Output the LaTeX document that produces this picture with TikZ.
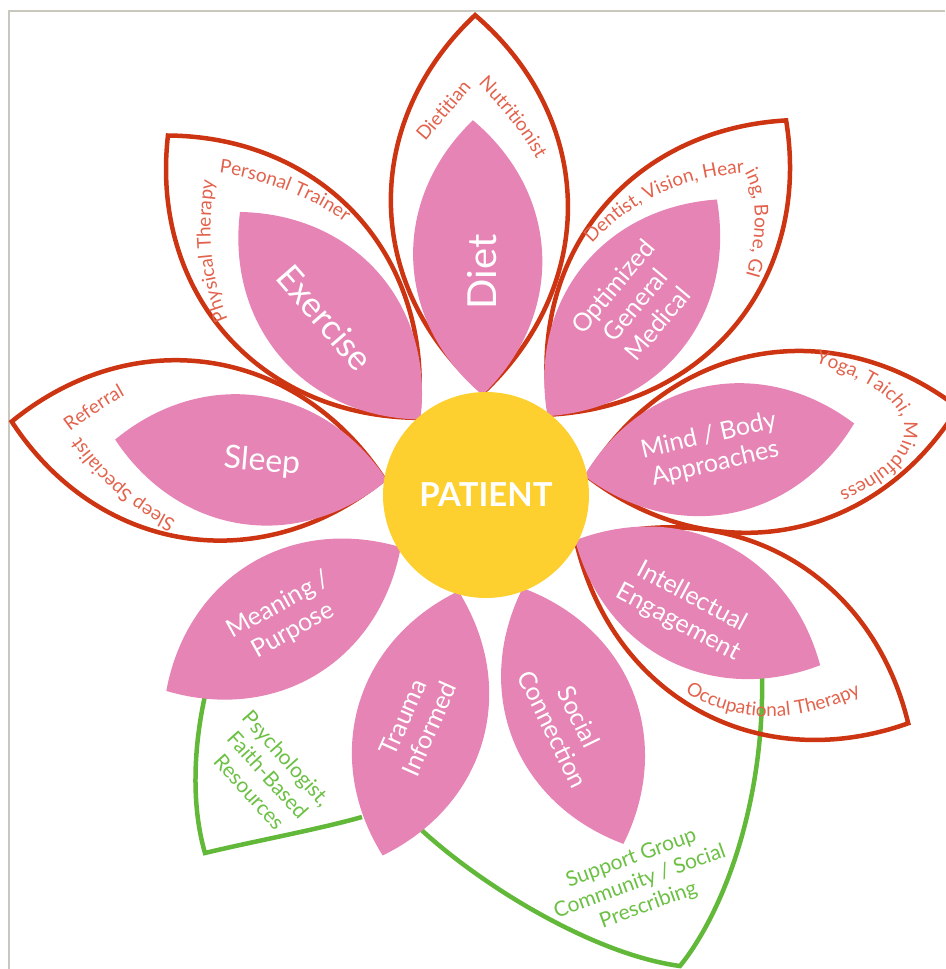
\documentclass[tikz,border=0pt]{standalone}
\usepackage{fontspec}
\setmainfont{Lato}
\usetikzlibrary{decorations.text}
\definecolor{petalpink}{RGB}{229,132,181}
\definecolor{sunyellow}{RGB}{253,208,48}
\definecolor{outlinered}{RGB}{204,52,18}
\definecolor{labelred}{RGB}{226,98,76}
\definecolor{leafgreen}{RGB}{98,184,56}
\definecolor{labelgreen}{RGB}{108,192,68}
\definecolor{framegray}{RGB}{200,200,190}
\newcommand\rimfont{\fontsize{19}{19}\selectfont}
\tikzset{
  petal/.style={fill=petalpink},
  rim/.style={draw=outlinered, line width=4.5pt, line join=miter},
  stem/.style={draw=leafgreen, line width=4.5pt},
  inlabel/.style={text=white, align=center, inner sep=0pt, font=\fontsize{25}{29}\selectfont},
  greenlabel/.style={text=labelgreen, align=center, inner sep=0pt, font=\fontsize{21}{25}\selectfont},
  rimtext/.style={decorate, decoration={text along path, text color=labelred, text={|\rimfont|#1}}}
}
\begin{document}
\begin{tikzpicture}[x=1pt,y=1pt]
\useasboundingbox (0,0) rectangle (945,969);
\draw[framegray, line width=2pt] (8.5,0) -- (8.5,957.5) -- (945,957.5);
\coordinate (c) at (486,474);
\draw[stem] (207,282) .. controls (192,220) and (192,160) .. (205,116) .. controls (255,128) and (320,140) .. (362,152);
\draw[stem] (410,150) .. controls (470,90) and (590,15) .. (680,3) .. controls (725,59) and (765,169) .. (762,297);
\foreach \a in {10.5,51.3,91.3,131.5,171.2,331.6}
  \draw[rim, shift={(c)}, rotate=\a] (103,0) to[bend left=48, looseness=1.08] (480,0) to[bend left=48, looseness=1.08] (103,0) -- cycle;
\foreach \a in {11,52,92,131,171.5,211.5,254,291.5,333}
  \fill[petal, shift={(c)}, rotate=\a] (100,0) to[bend left=48, looseness=1.08] (375,0) to[bend left=48, looseness=1.08] (100,0);
\node[circle, fill=sunyellow, minimum size=206pt, inner sep=0pt, text=white, font=\bfseries\fontsize{33}{33}\selectfont] (patient) at (c) {PATIENT};
\node[inlabel, font=\fontsize{40}{40}\selectfont, rotate=90] (diet) at (482,697) {Diet};
\node[inlabel, font=\fontsize{35}{35}\selectfont, rotate=-49] (exercise) at (325,651) {Exercise};
\node[inlabel, rotate=50] (medical) at (635,664) {Optimized\\General\\Medical};
\node[inlabel, font=\fontsize{32}{32}\selectfont, rotate=-5] (sleep) at (262,507) {Sleep};
\node[inlabel, rotate=13] (mindbody) at (712,519) {Mind / Body\\Approaches};
\node[inlabel, rotate=-28] (intellect) at (685,359) {Intellectual\\Engagement};
\node[inlabel, rotate=-64] (social) at (566,246) {Social\\Connection};
\node[inlabel, rotate=66] (trauma) at (416,246) {Trauma\\Informed};
\node[inlabel, rotate=29] (meaning) at (286,351) {Meaning /\\Purpose};
\node[greenlabel, rotate=-48] (psych) at (268,194) {Psychologist,\\Faith-Based\\Resources};
\node[greenlabel, rotate=20] (support) at (640,87) {Support Group\\Community / Social\\Prescribing};
\path[rimtext=Dietitian] (425,827) -- ++(60,70);
\path[rimtext=Nutritionist] (478,885) to[bend left=8] (548,790);
\path[rimtext=Personal Trainer] (219,796) .. controls (265,790) and (320,770) .. (360,735);
\path[rimtext=Physical Therapy] (228,650) .. controls (208,695) and (206,750) .. (218,810);
\path[rimtext={Dentist, Vision, Hearing, Bone, GI}] (592,725) .. controls (638,775) and (690,792) .. (745,796) .. controls (760,770) and (758,720) .. (738,670);
\path[rimtext=Referral] (70,537) to[bend left=5] (150,587);
\path[rimtext=Sleep Specialist] (176,449) .. controls (140,466) and (100,495) .. (62,560);
\path[rimtext={Yoga, Taichi, Mindfulness}] (815,606) .. controls (860,592) and (905,570) .. (904,538) .. controls (903,510) and (870,488) .. (820,470);
\path[rimtext=Occupational Therapy] (685,277) .. controls (730,248) and (800,236) .. (890,290);
\end{tikzpicture}
\end{document}
